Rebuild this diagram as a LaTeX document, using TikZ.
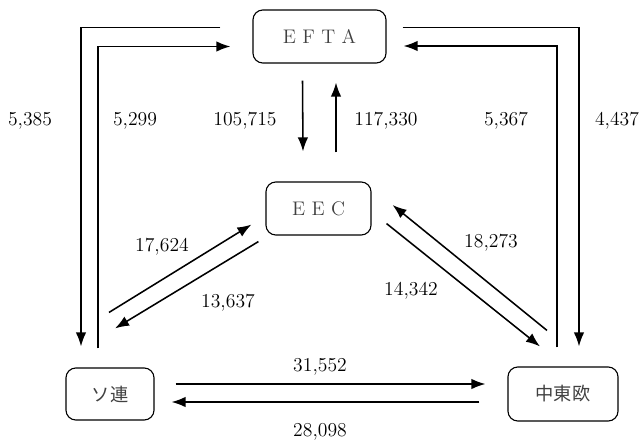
\documentclass[tikz,border=0pt]{standalone}
\usepackage{fontspec}
\newfontfamily\jpfont{Noto Sans CJK JP}
\usetikzlibrary{arrows.meta,calc}

\tikzset{
  box/.style={draw, rounded corners=7pt, line width=0.8pt, inner sep=0pt,
    text=black!75, font=\fontsize{14}{16}\selectfont},
  flow/.style={line width=1.1pt, -{Latex[length=10pt,width=7.5pt]}},
  num/.style={font=\fontsize{14}{16}\selectfont}
}

\begin{document}
\begin{tikzpicture}[x=0.025cm, y=-0.025cm]
    \useasboundingbox (0,0) rectangle (640,441);
    % regions
    \node[box, minimum width=3.325cm, minimum height=1.325cm] (efta) at (319.5,36.5) {E F T A};
    \node[box, minimum width=2.625cm, minimum height=1.325cm] (eec) at (318.5,208.5) {E E C};
    \node[box, minimum width=2.2cm, minimum height=1.3cm] (soren) at (110,394) {\jpfont\fontsize{13}{16}\selectfont ソ連};
    \node[box, minimum width=2.75cm, minimum height=1.35cm] (cee) at (563,394) {\jpfont\fontsize{13}{16}\selectfont 中東欧};
    % outer loops
    \draw[flow] ($(efta.west)+(-32,-9)$) -| ($(soren.north)+(-29,-21)$);
    \draw[flow] ($(soren.north)+(-12,-19)$) |- ($(efta.west)+(-22,10)$);
    \draw[flow] ($(efta.east)+(16,-9)$) -| ($(cee.north)+(16,-20)$);
    \draw[flow] ($(cee.north)+(-6,-19)$) |- ($(efta.east)+(17,9.5)$);
    % EFTA - EEC
    \draw[flow] ($(efta.south)+(-17,17)$) -- ($(eec.north)+(-15.5,-30)$);
    \draw[flow] ($(eec.north)+(17.5,-29)$) -- ($(efta.south)+(16.5,19)$);
    % EEC - east
    \draw[flow] ($(soren.north)+(-1,-55)$) -- ($(eec.south west)+(-14,-11)$);
    \draw[flow] ($(eec.south west)+(-7,6)$) -- ($(soren.north)+(5,-39)$);
    \draw[flow] ($(cee.north)+(-16,-36)$) -- ($(eec.east)+(21,-3.5)$);
    \draw[flow] ($(eec.south east)+(15,-12)$) -- ($(cee.north)+(-23,-20)$);
    % bottom
    \draw[flow] ($(soren.east)+(21,-10)$) -- ($(cee.west)+(-22,-10)$);
    \draw[flow] ($(cee.west)+(-28,8)$) -- ($(soren.east)+(17,8)$);
    % values
    \node[num] (v5385) at (30,121) {5,385};
    \node[num] (v5299) at (135,121) {5,299};
    \node[num] (v105715) at (245,121) {105,715};
    \node[num] (v117330) at (386,121) {117,330};
    \node[num] (v5367) at (506,121) {5,367};
    \node[num] (v4437) at (617,121) {4,437};
    \node[num] (v17624) at (162,247) {17,624};
    \node[num] (v13637) at (228,303) {13,637};
    \node[num] (v18273) at (491,243) {18,273};
    \node[num] (v14342) at (411,291) {14,342};
    \node[num] (v31552) at (320,367) {31,552};
    \node[num] (v28098) at (320,432) {28,098};
\end{tikzpicture}
\end{document}
